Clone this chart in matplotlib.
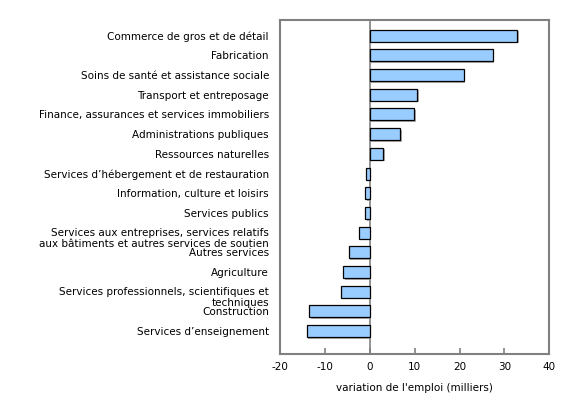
import matplotlib
matplotlib.use("Agg")
import matplotlib.pyplot as plt
import matplotlib.patheffects as pe
from matplotlib.transforms import ScaledTranslation

# industries, top to bottom
industries = [
    "Commerce de gros et de détail",
    "Fabrication",
    "Soins de santé et assistance sociale",
    "Transport et entreposage",
    "Finance, assurances et services immobiliers",
    "Administrations publiques",
    "Ressources naturelles",
    "Services d\u2019hébergement et de restauration",
    "Information, culture et loisirs",
    "Services publics",
    "Services aux entreprises, services relatifs\naux bâtiments et autres services de soutien",
    "Autres services",
    "Agriculture",
    "Services professionnels, scientifiques et\ntechniques",
    "Construction",
    "Services d\u2019enseignement",
]
# employment change, thousands
changes = [32.8, 27.4, 20.9, 10.5, 9.9, 6.8, 3.0, -0.9, -1.1, -1.1,
           -2.3, -4.7, -6.0, -6.5, -13.5, -14.1]
x_ticks = [-20, -10, 0, 10, 20, 30, 40]
x_label = "variation de l'emploi (milliers)"

plt.rcParams['font.family'] = ['DejaVu Sans']
fig = plt.figure(figsize=(5.8, 3.95), dpi=100)
ax = fig.add_axes([0.4828, 0.1038, 0.4643, 0.8456])

pos = list(range(len(industries)))
ax.barh(pos, changes, height=0.61, color="#99ccff", edgecolor="black", linewidth=0.9,
        zorder=3,
        path_effects=[pe.SimplePatchShadow(offset=(1.2, -1.2), shadow_rgbFace="#999999", alpha=0.8),
                      pe.Normal()])

ax.axvline(0, color="#808080", linewidth=1.2, zorder=2)
ax.set_xlim(-20, 40)
ax.set_ylim(16.17, -0.8)
ax.set_xticks(x_ticks)
ax.set_xticklabels([str(t) for t in x_ticks])
ax.set_yticks(pos)
ax.set_yticklabels(industries)
ax.tick_params(axis='y', length=0, pad=8, labelsize=7.5)
ax.tick_params(axis='x', direction='in', length=4, width=1.2, color="#808080",
               labelsize=7.5, pad=6)
for s in ax.spines.values():
    s.set_color("#808080")
    s.set_linewidth(1.5)
ax.set_xlabel(x_label, fontsize=7.5, labelpad=8)

# multi-line labels: first line sits on the bar
for lab in ax.get_yticklabels():
    if "\n" in lab.get_text():
        lab.set_va('top')
        lab.set_transform(lab.get_transform() + ScaledTranslation(0, 5 / 100, fig.dpi_scale_trans))

fig.savefig("out.png", dpi=100)
